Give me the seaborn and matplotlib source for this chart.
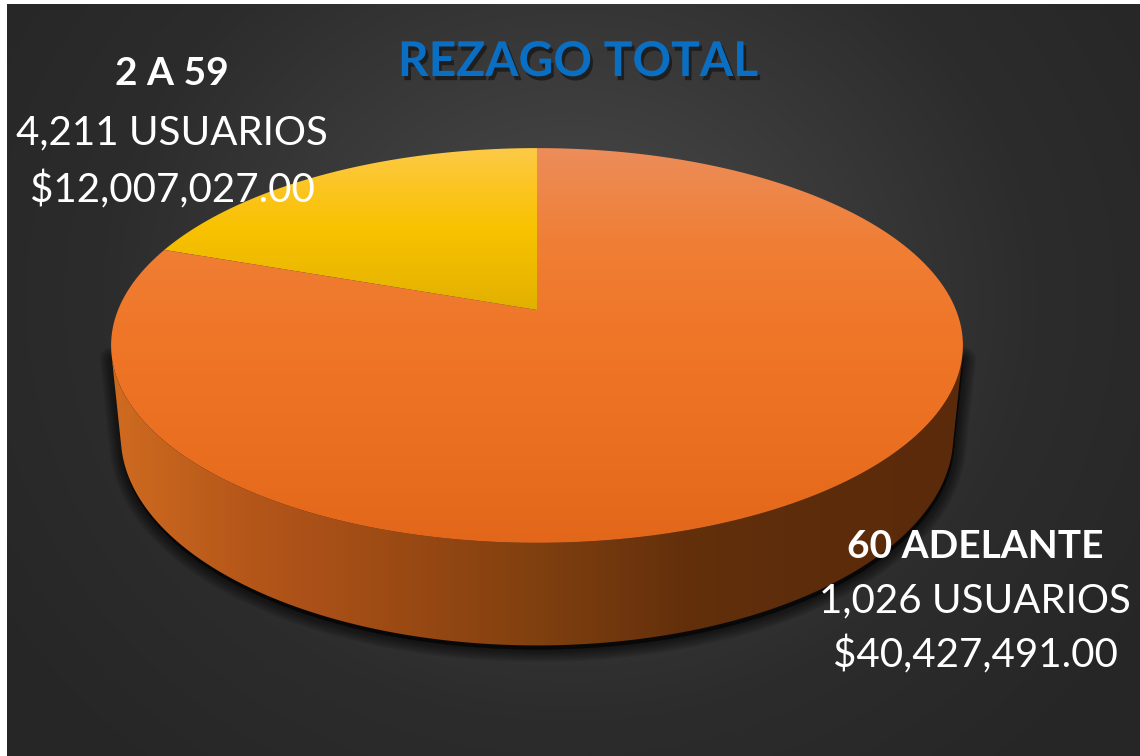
import numpy as np
import pandas as pd
import matplotlib
matplotlib.use("Agg")
import matplotlib.pyplot as plt
import matplotlib.patheffects as pe
from matplotlib.patches import Polygon
import seaborn as sns

# ---------------- data ----------------
categories = ["2 A 59", "60 ADELANTE"]
usuarios = [4211, 1026]
montos = [12007027.00, 40427491.00]
# slice sizes as they are drawn in the picture (yellow = first, orange = second)
slice_values = [1026, 4211]
title_text = "REZAGO TOTAL"

df = pd.DataFrame({"categoria": categories, "usuarios": usuarios,
                   "monto": montos, "valor": slice_values})

# ---------------- style ----------------
sns.set_style("white")
plt.rcParams['font.family'] = ['Lato', 'DejaVu Sans']

W, H = 1140, 756
fig = plt.figure(figsize=(W / 100, H / 100), dpi=100)
fig.patch.set_facecolor("white")
ax = fig.add_axes([0, 0, 1, 1])
ax.set_axis_off()

# background radial gradient (dark panel)
yy, xx = np.mgrid[4:H, 7:W]
r = np.sqrt(((xx - 570) / 1.0) ** 2 + ((yy - 300) / 0.9) ** 2)
bg_cmap = sns.blend_palette(["#4e4e4e", "#3c3c3c", "#2c2c2c", "#262626"], as_cmap=True)
ax.imshow(np.clip(r / 700, 0, 1), cmap=bg_cmap, vmin=0, vmax=1,
          extent=(7, W, H, 4), origin="upper", zorder=0, interpolation="bilinear")

# ---------------- 3D perspective projection ----------------
cx, cy, s = 537.0, 310.0, 419.0
phi = np.deg2rad(27.12)
sphi, cphi = np.sin(phi), np.cos(phi)
D = 4.954
depth_h = 0.246


def proj(X, Y, Z):
    X, Y, Z = np.asarray(X, float), np.asarray(Y, float), np.asarray(Z, float)
    dep = D + Y * cphi - Z * sphi
    up = Y * sphi + Z * cphi
    return np.column_stack([cx + s * X * D / dep, cy - s * up * D / dep])


def arc(t0, t1, Z, n=240):
    t = np.deg2rad(np.linspace(t0, t1, n))
    return proj(np.cos(t), np.sin(t), np.full_like(t, Z))


# silhouette angles of the cylinder side
t_sil = np.rad2deg(np.arcsin(-1 / (D * cphi)))  # about -13 deg
vis0, vis1 = 180 - t_sil, 360 + t_sil          # visible side range (front)

# slice angles (start at 12 o'clock, counter-clockwise)
vals = df["valor"].to_numpy(float)
spans = 360 * vals / vals.sum()
starts = 90 + np.concatenate([[0], np.cumsum(spans)[:-1]])

top_cmaps = [
    sns.blend_palette(["#fdca48", "#fcc521", "#f8c200", "#eeba00", "#e0b000"], as_cmap=True),
    sns.blend_palette(["#ec8d5a", "#f07e34", "#ef7527", "#eb6f20", "#e2671a"], as_cmap=True),
]
side_cmaps = [
    sns.blend_palette(["#d9a400", "#b88a00", "#7a5a00"], as_cmap=True),
    sns.blend_palette(["#d06c20", "#b4561a", "#9c4a14", "#80400f", "#64300c", "#5c2c0b", "#5a2a0a"],
                      as_cmap=True),
]

# ---------------- shadow (below the front side) ----------------
side_full = np.vstack([arc(vis0, vis1, 0.0), arc(vis1, vis0, -depth_h)])
for k in range(9):
    shp = Polygon(side_full + np.array([1, 4]), closed=True, facecolor="black",
                  edgecolor="black", linewidth=2.0 * (9 - k), alpha=0.075,
                  joinstyle="round", zorder=1)
    ax.add_patch(shp)

x_min, x_max = side_full[:, 0].min() - 5, side_full[:, 0].max() + 5

# ---------------- side walls ----------------
for i in range(len(vals)):
    a0, a1 = starts[i], starts[i] + spans[i]
    for off in (-360, 0, 360):
        lo, hi = max(a0 + off, vis0), min(a1 + off, vis1)
        if hi > lo:
            poly = np.vstack([arc(lo, hi, 0.0), arc(hi, lo, -depth_h)])
            patch = Polygon(poly, closed=True, facecolor="none", edgecolor="none", zorder=2)
            ax.add_patch(patch)
            grad = np.linspace(0, 1, 256)[None, :]
            im = ax.imshow(grad, cmap=side_cmaps[i], extent=(x_min, x_max, 660, 340),
                           origin="upper", aspect="auto", zorder=2, interpolation="bilinear")
            im.set_clip_path(patch)

# ---------------- top faces ----------------
for i in range(len(vals)):
    a0, a1 = starts[i], starts[i] + spans[i]
    poly = np.vstack([proj([0], [0], [0]), arc(a0, a1, 0.0)])
    patch = Polygon(poly, closed=True, facecolor="none", edgecolor="none", zorder=3)
    ax.add_patch(patch)
    y0, y1 = poly[:, 1].min() - 1, poly[:, 1].max() + 1
    grad = np.linspace(0, 1, 256)[:, None]
    im = ax.imshow(grad, cmap=top_cmaps[i], extent=(x_min, x_max, y1, y0),
                   origin="upper", aspect="auto", zorder=3, interpolation="bilinear")
    im.set_clip_path(patch)

ax.set_xlim(0, W)
ax.set_ylim(H, 0)
ax.set_aspect("auto")

# ---------------- texts ----------------
ax.text(578, 76, title_text, color="#0a6fc2", fontsize=34.5, fontweight="bold",
        ha="center", va="baseline", zorder=6,
        path_effects=[pe.SimplePatchShadow(offset=(2, -3), shadow_rgbFace="black", alpha=0.45),
                      pe.Normal()])

label_pos = [(172, [85, 144, 202]), (975, [558, 612, 667])]
for (x, ys), (_, row) in zip(label_pos, df.iterrows()):
    ax.text(x, ys[0], row["categoria"], color="white", fontsize=28, fontweight="bold",
            ha="center", va="baseline", zorder=6)
    ax.text(x, ys[1], f"{row['usuarios']:,} USUARIOS", color="white", fontsize=29,
            ha="center", va="baseline", zorder=6)
    ax.text(x, ys[2], f"${row['monto']:,.2f}", color="white", fontsize=29,
            ha="center", va="baseline", zorder=6)

fig.savefig("out.png", dpi=100, facecolor=fig.get_facecolor())
